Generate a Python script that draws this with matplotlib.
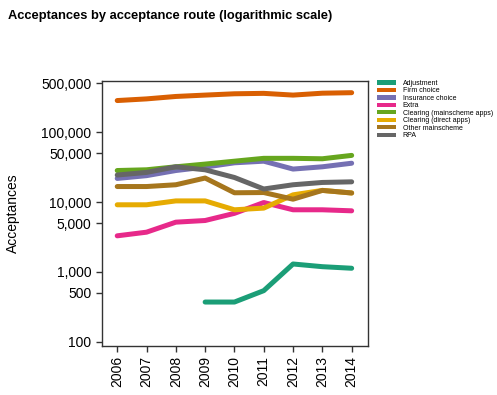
import numpy as np
import matplotlib
matplotlib.use("Agg")
import matplotlib.pyplot as plt
from matplotlib.patches import Patch
from matplotlib.ticker import FixedLocator, NullLocator

plt.rcParams['font.family'] = ['Liberation Sans', 'DejaVu Sans']

years = [2006, 2007, 2008, 2009, 2010, 2011, 2012, 2013, 2014]

adjustment = [np.nan, np.nan, np.nan, 371, 371, 540, 1300, 1190, 1130]
firm_choice = [284000, 300000, 325000, 340000, 355000, 360000, 340000, 362000, 368000]
insurance_choice = [21800, 23900, 28300, 31700, 36500, 38500, 29700, 32000, 36000]
extra = [3290, 3710, 5160, 5450, 6900, 9860, 7760, 7760, 7500]
clearing_main = [28300, 29000, 32000, 35000, 38500, 42300, 42300, 41700, 46600]
clearing_direct = [9150, 9150, 10400, 10400, 7760, 8200, 12700, 14700, 13500]
other_main = [16700, 16700, 17700, 22100, 13600, 13700, 11000, 14700, 13500]
rpa = [24400, 26600, 32000, 29000, 22500, 15400, 17700, 19100, 19500]

labels = ["Adjustment", "Firm choice", "Insurance choice", "Extra",
          "Clearing (mainscheme apps)", "Clearing (direct apps)",
          "Other mainscheme", "RPA"]
series = [adjustment, firm_choice, insurance_choice, extra,
          clearing_main, clearing_direct, other_main, rpa]
colors = ["#1b9e77", "#d95f02", "#7570b3", "#e7298a",
          "#66a61e", "#e6ab02", "#a6761d", "#666666"]

fig = plt.figure(figsize=(4.97, 3.95), dpi=100)
ax = fig.add_axes([0.2052, 0.1248, 0.5348, 0.6700])

for vals, c in zip(series, colors):
    ax.plot(years, vals, color=c, lw=3.6, solid_capstyle='round',
            solid_joinstyle='round')

ax.set_yscale('log')
ax.set_ylim(88, 540000)
ax.set_xlim(2005.48, 2014.55)

yt = [100, 500, 1000, 5000, 10000, 50000, 100000, 500000]
ax.yaxis.set_major_locator(FixedLocator(yt))
ax.yaxis.set_minor_locator(NullLocator())
ax.set_yticklabels([f"{v:,}" for v in yt], fontsize=10)
ax.set_xticks(years)
ax.set_xticklabels([str(y) for y in years], rotation=90, fontsize=10)
ax.tick_params(direction='out', length=4, width=1, color='#333333')
for s in ax.spines.values():
    s.set_color('#333333')
    s.set_linewidth(1)

ax.set_ylabel("Acceptances", fontsize=10)
ax.yaxis.set_label_coords(-0.31, 0.5)

fig.text(0.016, 0.975, "Acceptances by acceptance route (logarithmic scale)",
         fontsize=9.3, fontweight='bold', va='top', ha='left')

handles = [Patch(facecolor=c, edgecolor='none') for c in colors]
fig.legend(handles, labels, loc='upper left', bbox_to_anchor=(0.758, 0.798),
           frameon=False, fontsize=5, handlelength=2.75, handleheight=0.6,
           labelspacing=0.07, handletextpad=1.0, borderaxespad=0,
           borderpad=0)

fig.savefig("out.png", dpi=100)
